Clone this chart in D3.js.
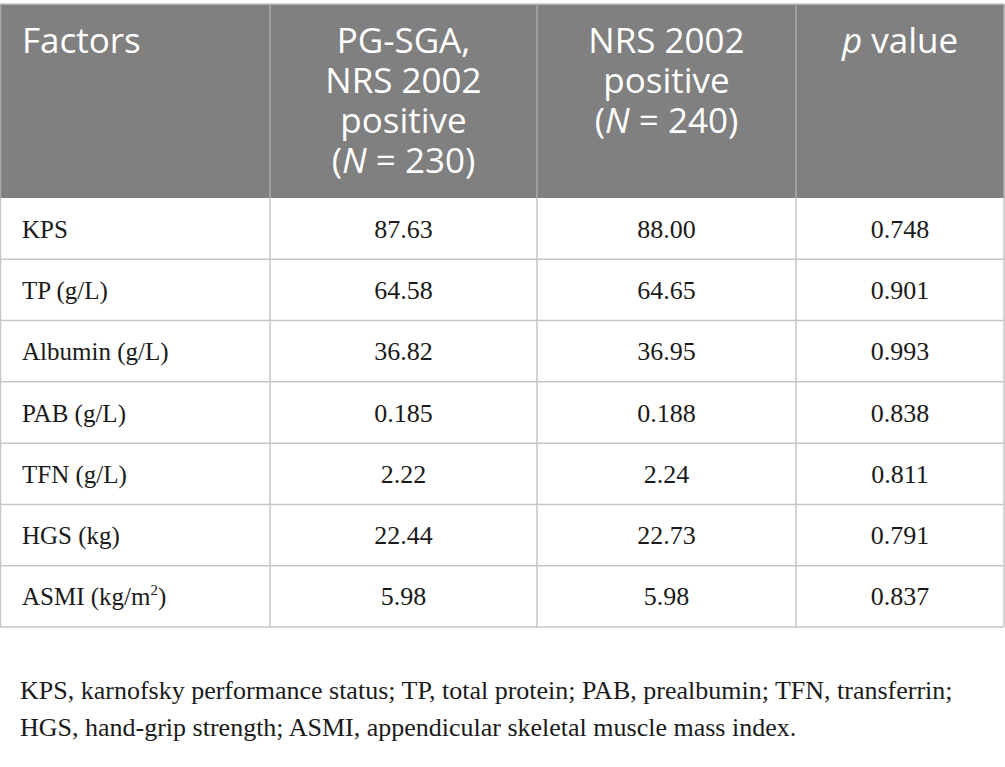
<!DOCTYPE html>
<html>
<head>
<meta charset="utf-8">
<script src="https://cdn.jsdelivr.net/npm/d3@7"></script>
<style>
  body { margin: 0; background: #fff; }
  svg { display: block; }
</style>
</head>
<body>
<div id="table"></div>
<script>
// table contents
const headers = [
  [["Factors"]],
  [["PG-SGA,"], ["NRS 2002"], ["positive"], ["(", ["N", true], " = 230)"]],
  [["NRS 2002"], ["positive"], ["(", ["N", true], " = 240)"]],
  [[["p", true], " value"]]
];
const factors = ["KPS", "TP (g/L)", "Albumin (g/L)", "PAB (g/L)", "TFN (g/L)", "HGS (kg)", "ASMI (kg/m2)"];
const pgsgaValues = ["87.63", "64.58", "36.82", "0.185", "2.22", "22.44", "5.98"];
const nrsValues = ["88.00", "64.65", "36.95", "0.188", "2.24", "22.73", "5.98"];
const pValues = ["0.748", "0.901", "0.993", "0.838", "0.811", "0.791", "0.837"];
const footnote = [
  "KPS, karnofsky performance status; TP, total protein; PAB, prealbumin; TFN, transferrin;",
  "HGS, hand-grip strength; ASMI, appendicular skeletal muscle mass index."
];

const width = 1005, height = 767;
const colEdges = [0.5, 270, 537, 796, 1004];
const headTop = 4, headBottom = 198, tableBottom = 627;

const svg = d3.select("#table").append("svg")
  .attr("width", width)
  .attr("height", height);

const y = d3.scaleBand().domain(factors).range([headBottom, tableBottom]);
const colIdx = d3.range(4);
const colMid = i => (colEdges[i] + colEdges[i + 1]) / 2;

// header background
svg.append("rect")
  .attr("x", colEdges[0]).attr("y", headTop)
  .attr("width", colEdges[4] - colEdges[0]).attr("height", headBottom - headTop)
  .attr("fill", "#808080");

// header text, one tspan run per line
const sans = "'Open Sans', 'Noto Sans', sans-serif";
colIdx.forEach(i => {
  const t = svg.append("text")
    .attr("font-family", sans)
    .attr("font-size", 35)
    .attr("fill", "#fff")
    .attr("text-anchor", i === 0 ? "start" : "middle");
  headers[i].forEach((line, li) => {
    line.forEach((part, pi) => {
      const isArr = Array.isArray(part);
      const ts = t.append("tspan").text(isArr ? part[0] : part);
      if (isArr && part[1]) ts.attr("font-style", "italic");
      if (pi === 0) ts.attr("x", i === 0 ? 22 : colMid(i)).attr("y", 53 + li * 40);
    });
  });
});

// grid lines
const lineColor = "#c6c6c6";
y.domain().forEach(f => {
  svg.append("line")
    .attr("x1", colEdges[0]).attr("x2", colEdges[4])
    .attr("y1", y(f) + y.bandwidth()).attr("y2", y(f) + y.bandwidth())
    .attr("stroke", lineColor).attr("stroke-width", 1.5);
});
svg.append("line")
  .attr("x1", colEdges[0]).attr("x2", colEdges[4])
  .attr("y1", headTop).attr("y2", headTop)
  .attr("stroke", lineColor).attr("stroke-width", 1.5);

colEdges.forEach(x => {
  svg.append("line")
    .attr("x1", x).attr("x2", x).attr("y1", headTop).attr("y2", headBottom)
    .attr("stroke", "#a8a8a8").attr("stroke-width", 1.5);
  svg.append("line")
    .attr("x1", x).attr("x2", x).attr("y1", headBottom).attr("y2", tableBottom)
    .attr("stroke", lineColor).attr("stroke-width", 1.5);
});

// body text
const serif = "'Liberation Serif', 'DejaVu Serif', serif";
const columns = [factors, pgsgaValues, nrsValues, pValues];
columns.forEach((vals, ci) => {
  svg.selectAll(".c" + ci)
    .data(vals)
    .enter().append("text")
    .attr("class", "c" + ci)
    .attr("font-family", serif)
    .attr("font-size", ci === 0 ? 25 : 26)
    .attr("fill", "#1a1a1a")
    .attr("text-anchor", ci === 0 ? "start" : "middle")
    .attr("x", ci === 0 ? 22 : colMid(ci))
    .attr("y", (d, i) => y(factors[i]) + y.bandwidth() / 2 + 9)
    .each(function(d) {
      const m = d.match(/^(.*m)2\)$/);
      if (ci === 0 && m) {
        const s = d3.select(this);
        s.append("tspan").text(m[1]);
        s.append("tspan").text("2").attr("font-size", 15).attr("dy", -10);
        s.append("tspan").text(")").attr("dy", 10);
      } else {
        d3.select(this).text(d);
      }
    });
});

// footnote
svg.selectAll(".foot")
  .data(footnote)
  .enter().append("text")
  .attr("class", "foot")
  .attr("font-family", serif)
  .attr("font-size", 26)
  .attr("fill", "#1a1a1a")
  .attr("x", 20)
  .attr("y", (d, i) => 699 + i * 37)
  .text(d => d);
</script>
</body>
</html>
